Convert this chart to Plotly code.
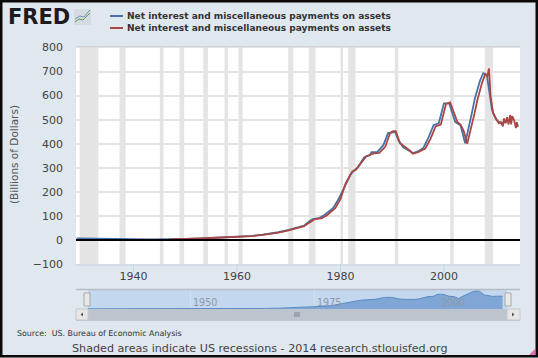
import plotly.graph_objects as go

blue_years = [1929,1931,1933,1935,1937,1940,1943,1945,1947,1950,1953,1955,1958,1960,1963,1965,1968,1970,1972,1973,1974,1974.7,1976,1977,1978.6,1979.5,1980.5,1981.9,1982.5,1983.4,1984.6,1985.7,1986,1987.1,1988.3,1989.2,1990.6,1991.2,1992.1,1993.5,1994,1995,1996,1997,1998,1999,2000,2001,2002.2,2003.2,2004.1,2005.4,2006,2007,2007.6,2008.3,2009.3,2010.2,2011,2012,2013]
blue_vals = [6,6,5,4,4,3,2,2,2,4,6,8,10,12,17,22,32,42,52,60,78,87,92,105,133,165,207,270,286,303,344,352,365,365,394,444,448,415,386,369,361,368,382,425,477,485,568,568,490,477,402,527,590,664,693,685,539,498,485,492,495]
red_years = [1947,1950,1953,1955,1958,1960,1963,1965,1968,1970,1972,1973,1974,1975,1976.4,1977.4,1979,1980,1981,1982.3,1983,1984,1985,1985.5,1986.5,1987.5,1988.7,1989.6,1990.2,1990.7,1991.5,1992.5,1993.5,1994,1995,1996.4,1997.4,1998.4,1999.4,2000.4,2001.2,2002.6,2003.2,2003.8,2004.5,2005.9,2006.5,2007.4,2008,2008.4,2008.7,2009,2009.5,2010,2010.6,2011,2011.4,2011.6,2011.9,2012.2,2012.5,2012.8,2013,2013.2,2013.6,2013.9,2014.1,2014.3]
red_vals = [2,3,6,8,10,12,16,21,30,40,50,57,72,86,91,103,132,170,235,285,292,320,348,352,360,362,388,445,452,452,402,386,370,358,365,380,420,472,480,565,572,490,480,455,400,525,585,655,690,680,713,600,527,506,485,490,472,505,485,510,480,520,480,515,495,465,490,470]
recession_starts = [1929.6,1937.3,1945.1,1948.9,1953.5,1957.6,1960.3,1969.9,1973.9,1980.0,1981.5,1990.5,2001.2,2007.9]
recession_ends = [1933.2,1938.5,1945.8,1949.8,1954.4,1958.3,1961.1,1970.9,1975.2,1980.5,1982.9,1991.2,2001.9,2009.5]
y_ticks = [-100,0,100,200,300,400,500,600,700,800]
x_ticks = [1940,1960,1980,2000]
nav_ticks = [1950,1975,2000]
series_name = "Net interest and miscellaneous payments on assets"

W, H = 538, 358
BG = "#dfe7ef"
FONT = "DejaVu Sans"
TXT = "#444444"
def fx(p): return p / W
def fy(p): return 1 - p / H

fig = go.Figure()
fig.add_trace(go.Scatter(x=blue_years, y=blue_vals, mode="lines", name=series_name,
                         line=dict(color="#4572a7", width=1.8), xaxis="x", yaxis="y"))
fig.add_trace(go.Scatter(x=red_years, y=red_vals, mode="lines", name=series_name,
                         line=dict(color="#aa4643", width=1.8), xaxis="x", yaxis="y"))
fig.add_trace(go.Scatter(x=blue_years, y=blue_vals, mode="lines", fill="tozeroy",
                         fillcolor="#7fa6d4", line=dict(color="#5d8bc4", width=1),
                         xaxis="x2", yaxis="y2", showlegend=False))

shapes = []
def rect(x0, y0, x1, y1, fill, line=None, w=0, layer="below"):
    shapes.append(dict(type="rect", xref="paper", yref="paper", x0=fx(x0), x1=fx(x1), y0=fy(y0), y1=fy(y1),
                       fillcolor=fill, line=dict(color=line or fill, width=w), layer=layer))
def seg(x0, y0, x1, y1, color, w=1, layer="above"):
    shapes.append(dict(type="line", xref="paper", yref="paper", x0=fx(x0), x1=fx(x1), y0=fy(y0), y1=fy(y1),
                       line=dict(color=color, width=w), layer=layer))

for a, b in zip(recession_starts, recession_ends):
    shapes.append(dict(type="rect", xref="x", yref="paper", x0=a, x1=b, y0=fy(264), y1=fy(47),
                       fillcolor="#e4e4e4", line=dict(width=0), layer="below"))
shapes.append(dict(type="line", xref="paper", yref="y", x0=fx(76), x1=fx(520), y0=0, y1=0,
                   line=dict(color="#000000", width=2), layer="above"))
rect(76, 264, 520, 266, "#d3dbe6")
rect(76, 46, 520, 47.5, "#d0d3d8")
for t in x_ticks:
    shapes.append(dict(type="line", xref="x", yref="paper", x0=t, x1=t, y0=fy(264), y1=fy(272),
                       line=dict(color="#c8d2de", width=1), layer="below"))
rect(88, 290, 507, 309, "#c3d7ee")
seg(76, 289.5, 520, 289.5, "#b5bcc5", 1.5)
rect(88, 309, 507, 320, "#bcc4ce")
rect(76, 309, 88, 320, "#e6e6e6", "#c4c9cf", 1, "above")
rect(507, 309, 520, 320, "#e6e6e6", "#c4c9cf", 1, "above")
seg(76, 320.5, 520, 320.5, "#c4c9cf", 1)
for gx in (295, 297, 299):
    seg(gx, 312, gx, 317, "#7c8590", 1)
shapes.append(dict(type="path", xref="paper", yref="paper",
                   path=f"M {fx(83)} {fy(312.5)} L {fx(83)} {fy(316.5)} L {fx(80.5)} {fy(314.5)} Z",
                   fillcolor="#555555", line=dict(width=0), layer="above"))
shapes.append(dict(type="path", xref="paper", yref="paper",
                   path=f"M {fx(512)} {fy(312.5)} L {fx(512)} {fy(316.5)} L {fx(514.5)} {fy(314.5)} Z",
                   fillcolor="#555555", line=dict(width=0), layer="above"))
rect(84, 293, 90, 306, "#e8e8e8", "#a8a8a8", 1, "above")
rect(505, 293, 511, 306, "#e8e8e8", "#a8a8a8", 1, "above")
seg(110, 16, 123, 16, "#4572a7", 2)
seg(110, 28, 123, 28, "#aa4643", 2)
rect(74, 9, 91, 25, "#d5dbe0")
seg(75, 22, 79, 19, "#5a9a5a", 1)
seg(79, 19, 83, 20, "#5a9a5a", 1)
seg(83, 20, 90, 13, "#5a9a5a", 1)
seg(75, 19, 80, 16, "#6f93b8", 1)
seg(80, 16, 84, 17, "#6f93b8", 1)
seg(84, 17, 90, 10, "#6f93b8", 1)
rect(1.25, 1.25, 536.75, 356.25, "rgba(0,0,0,0)", "#0a0a0a", 2.5, "above")
shapes.append(dict(type="path", xref="paper", yref="paper",
                   path=f"M {fx(529)} {fy(355)} L {fx(535)} {fy(355)} L {fx(535)} {fy(349)} Z",
                   fillcolor="#ee66bb", line=dict(width=0), layer="above"))

ann = []
def txt(x, y, s, size, color=TXT, anchor="left", family=FONT, xref="paper", **kw):
    ann.append(dict(x=x if xref != "paper" else fx(x), y=fy(y), xref=xref, yref="paper", text=s, showarrow=False,
                    xanchor=anchor, yanchor="middle", font=dict(family=family, size=size, color=color),
                    align="left", borderpad=0, **kw))
txt(7, 17, "<b>FRED</b>", 21, "#1d1b1c")
txt(126, 15.5, f"<b>{series_name}</b>", 9.05, "#333333")
txt(126, 27.5, f"<b>{series_name}</b>", 9.05, "#333333")
txt(14, 155, "(Billions of Dollars)", 10.5, "#555555", anchor="center", textangle=-90)
txt(16, 333, "Source:  US. Bureau of Economic Analysis", 7.9, "#333333")
txt(71, 348, "Shaded areas indicate US recessions - 2014 research.stlouisfed.org", 11.15, "#444444")
for t in nav_ticks:
    txt(t + 0.4, 302, str(t), 9.6, "#8f99a6", xref="x2")

fig.update_layout(
    width=W, height=H, autosize=False, margin=dict(l=0, r=0, t=0, b=0, pad=0, autoexpand=False),
    paper_bgcolor=BG, plot_bgcolor="#ffffff", showlegend=False,
    shapes=shapes, annotations=ann,
    font=dict(family=FONT, size=11, color=TXT),
    xaxis=dict(domain=[fx(76), fx(520)], range=[1928.9, 2014.7], tickvals=x_ticks, showgrid=False,
               zeroline=False, showline=False, ticks="", ticklen=0, anchor="y", ticklabelstandoff=4,
               tickfont=dict(size=11, color=TXT, family=FONT)),
    yaxis=dict(domain=[fy(264), fy(47.5)], range=[-100, 800], tickvals=y_ticks, showgrid=True,
               gridcolor="#e3e3e3", gridwidth=2, zeroline=False, showline=False, ticks="",
               ticklen=0, ticklabelstandoff=12, tickfont=dict(size=11, color=TXT, family=FONT), anchor="x"),
    xaxis2=dict(domain=[fx(88), fx(507)], range=[1929.4, 2013.9], tick0=1950, dtick=25, showgrid=True,
                gridcolor="#d2e0f1", gridwidth=1, zeroline=False, showticklabels=False, ticks="", anchor="y2"),
    yaxis2=dict(domain=[fy(309), fy(290)], range=[0, 730], showgrid=False, zeroline=False,
                showticklabels=False, ticks="", anchor="x2"),
)
fig.write_html("out.html", post_script="document.body.style.margin='0';document.body.style.overflow='hidden';",
               config=dict(displayModeBar=False))
